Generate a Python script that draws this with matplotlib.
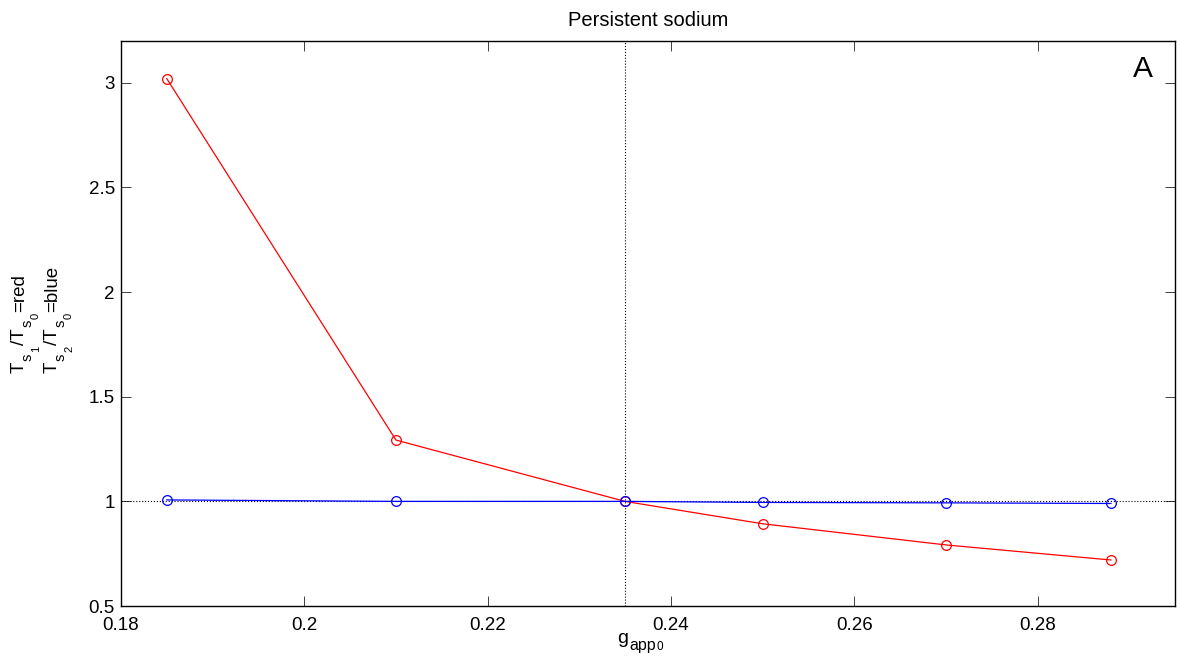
import matplotlib
matplotlib.use("Agg")
import matplotlib.pyplot as plt
from matplotlib.transforms import IdentityTransform

plt.rcParams['font.family'] = ['Liberation Sans', 'DejaVu Sans']

# conductance values and period ratios
g_app = [0.185, 0.21, 0.235, 0.25, 0.27, 0.288]
ratio_red = [3.02, 1.293, 1.0, 0.893, 0.792, 0.72]
ratio_blue = [1.007, 1.0, 1.0, 0.995, 0.993, 0.99]
g_ref = 0.235

x_ticks = [0.18, 0.2, 0.22, 0.24, 0.26, 0.28]
x_ticklabels = ['0.18', '0.2', '0.22', '0.24', '0.26', '0.28']
y_ticks = [0.5, 1, 1.5, 2, 2.5, 3]
y_ticklabels = ['0.5', '1', '1.5', '2', '2.5', '3']


def text_run(fig, x0, y0, pieces, rotation=0):
    # lay out (string, size, drop) pieces one after another, in pixels
    renderer = fig.canvas.get_renderer()
    pos = 0
    for s, size, drop in pieces:
        if rotation == 90:
            x, y = x0 + drop, y0 + pos
        else:
            x, y = x0 + pos, y0 - drop
        t = fig.text(x, y, s, fontsize=size, rotation=rotation,
                     rotation_mode='anchor', ha='left', va='baseline',
                     transform=IdentityTransform())
        bb = t.get_window_extent(renderer)
        pos += (bb.height if rotation == 90 else bb.width) + 1


fig = plt.figure(figsize=(11.8, 6.64), dpi=100)
ax = fig.add_axes([0.1025, 0.0873, 0.8933, 0.851])

ax.axhline(1.0, color='k', ls=':', lw=0.8)
ax.axvline(g_ref, color='k', ls=':', lw=0.8)

ax.plot(g_app, ratio_red, color='red', lw=0.9, marker='o', ms=7,
        mfc='none', mec='red', mew=0.9)
ax.plot(g_app, ratio_blue, color='blue', lw=0.9, marker='o', ms=7,
        mfc='none', mec='blue', mew=0.9)

ax.set_xlim(0.18, 0.295)
ax.set_ylim(0.5, 3.2)
ax.set_xticks(x_ticks)
ax.set_xticklabels(x_ticklabels)
ax.set_yticks(y_ticks)
ax.set_yticklabels(y_ticklabels)
ax.tick_params(direction='in', top=True, right=True, length=7.5, width=0.7,
               color='#404040', labelsize=13.5)
ax.tick_params(axis='x', pad=8)
ax.tick_params(axis='y', pad=4.3)
for s in ax.spines.values():
    s.set_linewidth(1.0)

ax.set_title('Persistent sodium', fontsize=14.5, pad=11)
ax.text(0.960, 0.9363, 'A', transform=ax.transAxes, ha='left', va='baseline',
        fontsize=21.5)

# axis labels with nested subscripts
text_run(fig, 617, 21, [('g', 14, 0), ('app', 11.5, 7), ('0', 8.5, 7)])
text_run(fig, 24, 291, [('T', 13.5, 0), ('s', 10.5, 8), ('1', 8, 15),
                        ('/T', 13.5, 0), ('s', 10.5, 8), ('0', 8, 15),
                        ('=red', 13.5, 0)], rotation=90)
text_run(fig, 57, 291, [('T', 13.5, 0), ('s', 10.5, 8), ('2', 8, 15),
                        ('/T', 13.5, 0), ('s', 10.5, 8), ('0', 8, 15),
                        ('=blue', 13.5, 0)], rotation=90)

fig.savefig('out.png', dpi=100)
